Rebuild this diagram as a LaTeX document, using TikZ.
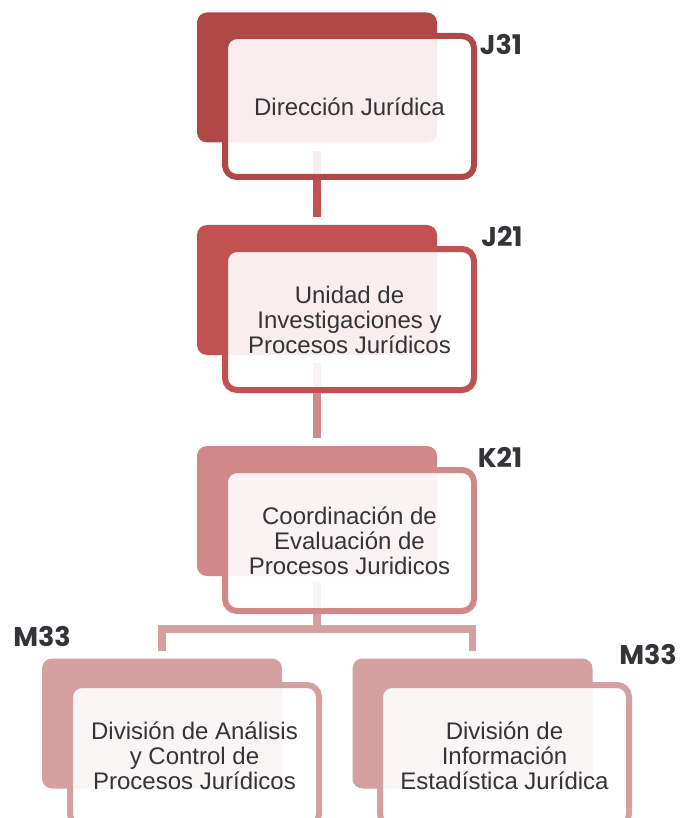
\documentclass[tikz,border=0pt]{standalone}
\usepackage{fontspec}
\setmainfont{Liberation Sans}
\newfontfamily\codefont{Poppins}
\usepackage{tikz}
\usetikzlibrary{positioning}

\definecolor{lvla}{HTML}{B04848}
\definecolor{lvlb}{HTML}{C25252}
\definecolor{lvlc}{HTML}{D08888}
\definecolor{lvld}{HTML}{D4A0A0}
\definecolor{txt}{HTML}{333338}

\tikzset{
  backbox/.style={fill=#1, rounded corners=10pt, inner sep=0pt,
    minimum width=240pt, minimum height=130pt},
  frontbox/.style={draw=#1, line width=6pt, fill=white, fill opacity=0.9,
    text opacity=1, rounded corners=12pt, minimum width=249pt,
    minimum height=141pt, align=center, text=txt,
    font=\fontsize{24}{25}\selectfont},
  unitcode/.style={font=\codefont\bfseries\fontsize{27}{27}\selectfont, text=txt},
  link/.style={draw=#1, line width=7.5pt}
}

\begin{document}
\begin{tikzpicture}[x=1pt,y=-1pt]
  \useasboundingbox (0,0) rectangle (681,818);
  \clip (0,0) rectangle (681,818);

  % back cards
  \node[backbox=lvla] (b1) at (317,77.5) {};
  \node[backbox=lvlb] (b2) at (317,290) {};
  \node[backbox=lvlc] (b3) at (317,511) {};
  \node[backbox=lvld] (bl) at (162,723.5) {};
  \node[backbox=lvld] (br) at (472.5,723.5) {};

  % connectors
  \coordinate (fork) at (317,629);
  \draw[link=lvlb] ([yshift=-8pt]b1.south) -- ([yshift=8pt]b2.north);
  \draw[link=lvlc] ([yshift=-8pt]b2.south) -- ([yshift=8pt]b3.north);
  \draw[link=lvld] ([yshift=-6pt]b3.south) -- (fork);
  \draw[link=lvld, line join=miter] ([yshift=7pt]bl.north) |- (fork) -| ([yshift=7pt]br.north);

  % front cards
  \node[frontbox=lvla] (f1) at ([shift={(32.5,29)}]b1) {Dirección Jurídica};
  \node[frontbox=lvlb] (f2) at ([shift={(32.5,29.5)}]b2) {Unidad de\\Investigaciones y\\Procesos Jurídicos};
  \node[frontbox=lvlc] (f3) at ([shift={(32.5,29.5)}]b3) {Coordinación de\\Evaluación de\\Procesos Juridicos};
  \node[frontbox=lvld] (fl) at ([shift={(32.5,32)}]bl) {División de Análisis\\y Control de\\Procesos Jurídicos};
  \node[frontbox=lvld] (fr) at ([shift={(32,32)}]br) {División de\\Información\\Estadística Jurídica};

  % codes
  \node[unitcode] (c1) at (501,45) {J31};
  \node[unitcode] (c2) at (502,237) {J21};
  \node[unitcode] (c3) at (500,457) {K21};
  \node[unitcode] (cl) at (42,636) {M33};
  \node[unitcode] (cr) at (648,654) {M33};
\end{tikzpicture}
\end{document}
